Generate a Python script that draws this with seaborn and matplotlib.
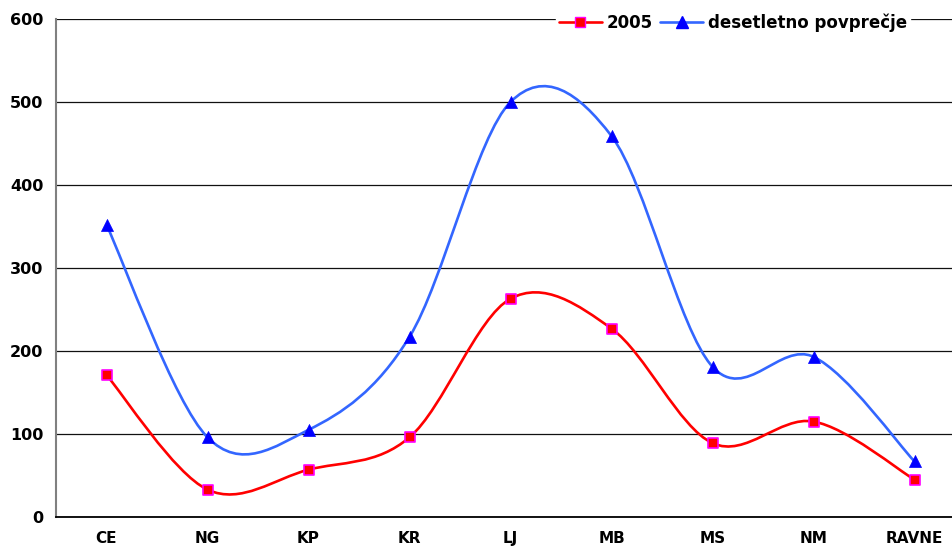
import numpy as np
import pandas as pd
import matplotlib
matplotlib.use("Agg")
import matplotlib.pyplot as plt
from matplotlib.path import Path
from matplotlib.patches import PathPatch
from matplotlib.lines import Line2D
import seaborn as sns

categories = ["CE", "NG", "KP", "KR", "LJ", "MB", "MS", "NM", "RAVNE"]
values_2005 = [171, 33, 57, 96, 263, 227, 89, 115, 45]
values_avg = [352, 96, 105, 217, 500, 459, 181, 193, 67]
y_ticks = [0, 100, 200, 300, 400, 500, 600]
series_names = ["2005", "desetletno povprečje"]

sns.set_theme(style="white")
plt.rcParams["font.family"] = ["DejaVu Sans"]
plt.rcParams["font.weight"] = "bold"
plt.rcParams["text.color"] = "black"

fig = plt.figure(figsize=(9.52, 5.47), dpi=100)
ax = fig.add_axes([56 / 952, 30 / 547, 909 / 952, 498 / 547])

df = pd.DataFrame({"cat": categories, "x": np.arange(len(categories)),
                   "a": values_2005, "b": values_avg})


def smooth_path(xs, ys):
    pts = np.column_stack([xs, ys]).astype(float)
    n = len(pts)
    verts = [pts[0]]
    codes = [Path.MOVETO]
    for i in range(n - 1):
        p0 = pts[i - 1] if i > 0 else pts[i]
        p1 = pts[i]
        p2 = pts[i + 1]
        p3 = pts[i + 2] if i + 2 < n else pts[i + 1]
        c1 = p1 + (p2 - p0) / 6.0
        c2 = p2 - (p3 - p1) / 6.0
        verts += [c1, c2, p2]
        codes += [Path.CURVE4] * 3
    return Path(verts, codes)


red = "#FF0000"
blue = "#3366FF"
ax.add_patch(PathPatch(smooth_path(df["x"], df["a"]), facecolor="none",
                       edgecolor=red, lw=1.9, zorder=3, capstyle="round"))
ax.add_patch(PathPatch(smooth_path(df["x"], df["b"]), facecolor="none",
                       edgecolor=blue, lw=1.9, zorder=3, capstyle="round"))

sns.scatterplot(data=df, x="x", y="a", marker="s", s=50, color="#FF0000",
                edgecolor="#FF00FF", linewidth=1.2, ax=ax, zorder=4, legend=False)
sns.scatterplot(data=df, x="x", y="b", marker="^", s=75, color="#0000FF",
                edgecolor="#0000FF", linewidth=0.5, ax=ax, zorder=4, legend=False)

ax.set_xlim(-0.5, len(categories) - 0.5)
ax.set_ylim(0, 600)
ax.set_yticks(y_ticks)
ax.set_yticklabels([str(v) for v in y_ticks], fontsize=11.5, fontweight="bold", color="black")
ax.set_xticks(np.arange(len(categories)))
ax.set_xticklabels(categories, fontsize=11, fontweight="bold", color="black")
ax.set_xticks(np.arange(len(categories) - 1) + 0.5, minor=True)
ax.tick_params(axis="x", which="major", length=0, pad=10)
ax.tick_params(axis="x", which="minor", length=5, width=1, color="#808080", direction="out")
ax.tick_params(axis="y", which="major", length=5, width=1, color="#808080",
               direction="out", pad=4)
ax.set_xlabel("")
ax.set_ylabel("")

ax.yaxis.grid(True, color="#111111", linewidth=0.9)
ax.xaxis.grid(False)
ax.set_axisbelow(True)
for s in ["top", "right"]:
    ax.spines[s].set_visible(False)
ax.spines["left"].set_color("#808080")
ax.spines["left"].set_linewidth(1.5)
ax.spines["bottom"].set_color("black")
ax.spines["bottom"].set_linewidth(1.3)
ax.spines["bottom"].set_zorder(5)

handles = [
    Line2D([0], [0], color=red, lw=1.9, marker="s", markersize=7,
           markerfacecolor="#FF0000", markeredgecolor="#FF00FF"),
    Line2D([0], [0], color=blue, lw=1.9, marker="^", markersize=8,
           markerfacecolor="#0000FF", markeredgecolor="#0000FF"),
]
leg = fig.legend(handles, series_names, loc="center", ncol=2,
                 bbox_to_anchor=(733 / 952, 1 - 23 / 547), frameon=True,
                 prop={"weight": "bold", "size": 12}, handlelength=2.6,
                 columnspacing=0.4, handletextpad=0.3, borderpad=0.15,
                 borderaxespad=0, fancybox=False)
leg.get_frame().set_edgecolor("white")
leg.get_frame().set_facecolor("white")
leg.get_frame().set_alpha(1)
for t in leg.get_texts():
    t.set_color("black")

fig.savefig("out.png", dpi=100)
